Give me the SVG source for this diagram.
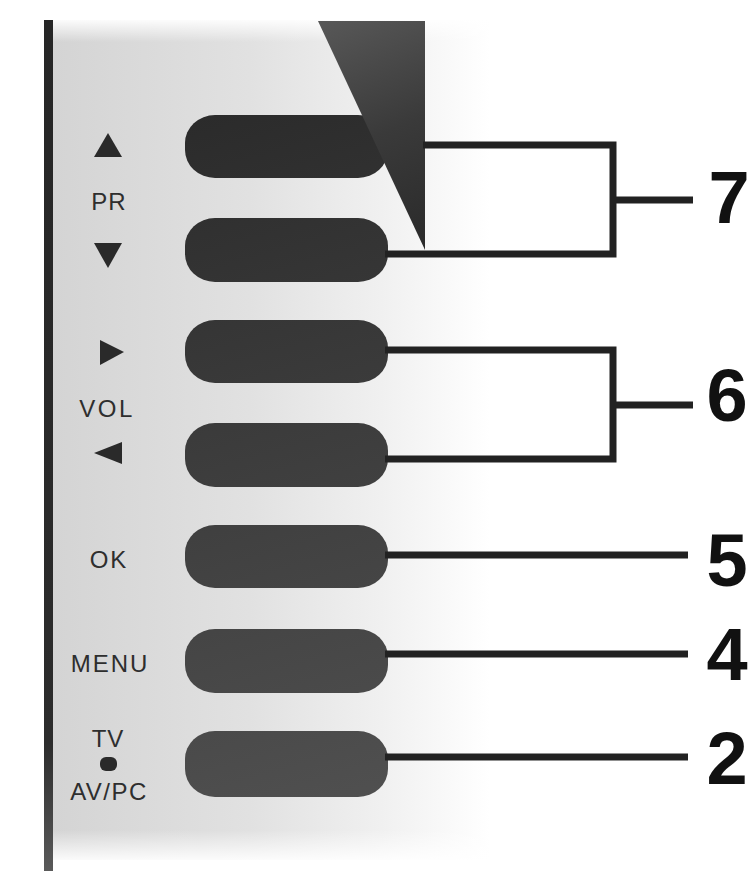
<svg xmlns="http://www.w3.org/2000/svg" width="755" height="871" viewBox="0 0 755 871">
<defs>
<linearGradient id="panelG" x1="53" y1="0" x2="490" y2="0" gradientUnits="userSpaceOnUse">
<stop offset="0" stop-color="#d4d4d4"/>
<stop offset="0.45" stop-color="#e1e1e1"/>
<stop offset="0.75" stop-color="#f0f0f0"/>
<stop offset="1" stop-color="#ffffff"/>
</linearGradient>
<linearGradient id="topFade" x1="0" y1="18" x2="0" y2="42" gradientUnits="userSpaceOnUse">
<stop offset="0" stop-color="#ffffff" stop-opacity="1"/>
<stop offset="1" stop-color="#ffffff" stop-opacity="0"/>
</linearGradient>
<linearGradient id="botFade" x1="0" y1="830" x2="0" y2="860" gradientUnits="userSpaceOnUse">
<stop offset="0" stop-color="#ffffff" stop-opacity="0"/>
<stop offset="1" stop-color="#ffffff" stop-opacity="0.9"/>
</linearGradient>
<linearGradient id="barG" x1="0" y1="20" x2="0" y2="871" gradientUnits="userSpaceOnUse">
<stop offset="0" stop-color="#262626"/>
<stop offset="0.85" stop-color="#2c2c2c"/>
<stop offset="1" stop-color="#5a5a5a"/>
</linearGradient>
<linearGradient id="triG" x1="330" y1="20" x2="425" y2="250" gradientUnits="userSpaceOnUse">
<stop offset="0" stop-color="#575757"/>
<stop offset="0.5" stop-color="#3a3a3a"/>
<stop offset="1" stop-color="#2a2a2a"/>
</linearGradient>
<linearGradient id="btnG" x1="185" y1="100" x2="390" y2="800" gradientUnits="userSpaceOnUse">
<stop offset="0" stop-color="#2a2a2a"/>
<stop offset="1" stop-color="#505050"/>
</linearGradient>
<style>
.btn{fill:url(#btnG);}
.lbl{font-family:"Liberation Sans",Arial,sans-serif;font-size:24px;fill:#2e2e2e;text-anchor:middle;}
.sym{fill:#2a2a2a;}
.num{font-family:"Liberation Sans",Arial,sans-serif;font-size:74px;font-weight:bold;fill:#111;text-anchor:middle;}
.con{fill:none;stroke:#222;stroke-width:7;stroke-linejoin:miter;}
</style>
</defs>
<rect width="755" height="871" fill="#ffffff"/>
<g id="panel">
<rect x="53" y="20" width="440" height="840" fill="url(#panelG)"/>
<rect x="53" y="18" width="440" height="24" fill="url(#topFade)"/>
<rect x="53" y="830" width="440" height="32" fill="url(#botFade)"/>
<rect x="44" y="20" width="9" height="851" fill="url(#barG)"/>
</g>
<g id="btn-pr-up">
<rect class="btn" x="185" y="115" width="203" height="63" rx="30" ry="28"/>
<polygon class="sym" points="108,133 94,157 122,157"/>
<text class="lbl" x="109" y="210" letter-spacing="1">PR</text>
</g>
<g id="bezel-shape">
<polygon points="318,21 425,21 425,250" fill="url(#triG)"/>
</g>
<g id="btn-pr-down">
<rect class="btn" x="185" y="218" width="203" height="64" rx="30" ry="28"/>
<polygon class="sym" points="94,243 122,243 108,268"/>
</g>
<g id="btn-vol-up">
<rect class="btn" x="185" y="320" width="203" height="63" rx="30" ry="28"/>
<polygon class="sym" points="100,340 100,365 124,352"/>
<text class="lbl" x="107" y="417" letter-spacing="2.5">VOL</text>
</g>
<g id="btn-vol-down">
<rect class="btn" x="185" y="423" width="203" height="64" rx="30" ry="28"/>
<polygon class="sym" points="122,442 122,464 94,453"/>
</g>
<g id="btn-ok">
<rect class="btn" x="185" y="525" width="203" height="63" rx="30" ry="28"/>
<text class="lbl" x="109" y="568" letter-spacing="2">OK</text>
</g>
<g id="btn-menu">
<rect class="btn" x="185" y="629" width="203" height="64" rx="30" ry="28"/>
<text class="lbl" x="110" y="672" letter-spacing="2">MENU</text>
</g>
<g id="btn-input">
<rect class="btn" x="185" y="731" width="203" height="66" rx="30" ry="28"/>
<text class="lbl" x="108" y="747" letter-spacing="1">TV</text>
<rect x="100" y="757" width="17" height="14" rx="6" ry="6" fill="#2a2a2a"/>
<text class="lbl" x="109" y="800" letter-spacing="1.5">AV/PC</text>
</g>
<g id="connectors">
<path class="con" d="M423 145 H613 V254 H385"/>
<path class="con" d="M613 200 H693"/>
<path class="con" d="M385 350 H613 V459 H385"/>
<path class="con" d="M613 405 H693"/>
<path class="con" d="M385 555 H688"/>
<path class="con" d="M385 654 H688"/>
<path class="con" d="M385 757 H688"/>
</g>
<g id="callouts">
<text class="num" x="729" y="223">7</text>
<text class="num" x="727" y="421">6</text>
<text class="num" x="727" y="586">5</text>
<text class="num" x="727" y="680">4</text>
<text class="num" x="727" y="784">2</text>
</g>
</svg>
